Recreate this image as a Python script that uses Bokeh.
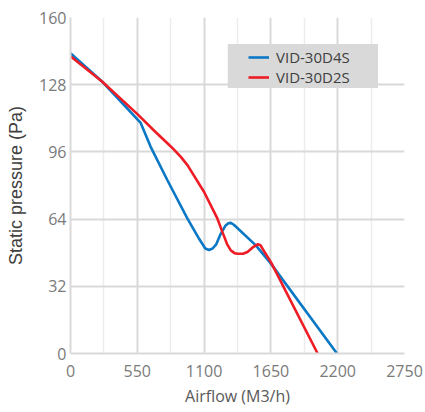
from bokeh.plotting import figure
from bokeh.models import FixedTicker, Range1d, Legend, LegendItem, BoxAnnotation
from bokeh.embed import file_html
from bokeh.resources import INLINE

# ---- data ----
blue_x = [0, 262, 578, 660, 798, 963, 1060, 1110, 1140, 1170, 1200, 1237, 1275, 1300, 1320, 1345, 1526, 1650, 2194]
blue_y = [143, 129.4, 109.8, 98.4, 82.5, 64.2, 54.5, 50.0, 49.3, 50.0, 52.0, 57.0, 60.8, 62.0, 62.2, 61.3, 51.5, 42.8, 0]

red_x = [0, 262, 551, 700, 800, 850, 910, 963, 1100, 1210, 1251, 1290, 1320, 1350, 1375, 1420, 1457, 1500, 1540, 1565, 1581, 1650, 2035]
red_y = [141.6, 129.4, 114.0, 105.5, 100.0, 97.2, 93.5, 89.7, 76.9, 64.2, 57.8, 52.0, 49.1, 47.8, 47.5, 47.5, 48.3, 50.5, 52.0, 51.5, 49.9, 43.5, 0]

series_names = ["VID-30D4S", "VID-30D2S"]
x_ticks = [0, 550, 1100, 1650, 2200, 2750]
x_minor = [275, 825, 1375, 1925, 2475]
y_ticks = [0, 32, 64, 96, 128, 160]

TICK_FONT = "Open Sans"

p = figure(frame_width=334, frame_height=336, output_backend="svg", toolbar_location=None,
           x_range=Range1d(0, 2750), y_range=Range1d(0, 160),
           min_border_left=70, min_border_top=17, min_border_right=21, min_border_bottom=2)
p.outline_line_color = None
p.background_fill_color = "white"

p.xaxis.ticker = FixedTicker(ticks=x_ticks, minor_ticks=x_minor)
p.yaxis.ticker = FixedTicker(ticks=y_ticks)

for ax in (p.xaxis[0], p.yaxis[0]):
    ax.axis_line_color = "#d9d9d9"
    ax.axis_line_width = 2
    ax.major_tick_line_color = None
    ax.minor_tick_line_color = None
    ax.major_tick_out = 0
    ax.major_tick_in = 0
    ax.minor_tick_out = 0
    ax.minor_tick_in = 0
    ax.major_label_text_font = TICK_FONT
    ax.major_label_text_font_size = "16px"
    ax.major_label_text_color = "#7a7a7a"

p.xaxis.axis_label = "Airflow (M3/h)"
p.xaxis.axis_label_text_font = "Open Sans"
p.xaxis.axis_label_text_font_size = "16px"
p.xaxis.axis_label_text_font_style = "normal"
p.xaxis.axis_label_text_color = "#595959"
p.xaxis.major_label_standoff = 11
p.xaxis.axis_label_standoff = 5

p.yaxis.axis_label = "Static pressure (Pa)"
p.yaxis.axis_label_text_font = "Liberation Sans"
p.yaxis.axis_label_text_font_size = "18px"
p.yaxis.axis_label_text_font_style = "normal"
p.yaxis.axis_label_text_color = "#404040"
p.yaxis.major_label_standoff = 4
p.yaxis.axis_label_standoff = 10

p.xgrid.grid_line_color = "#d9d9d9"
p.xgrid.grid_line_width = 2
p.xgrid.minor_grid_line_color = "#ececec"
p.xgrid.minor_grid_line_width = 1.5
p.ygrid.grid_line_color = "#d9d9d9"
p.ygrid.grid_line_width = 2

blue = p.line(blue_x, blue_y, line_color="#0b78c6", line_width=2.6)
red = p.line(red_x, red_y, line_color="#ee1c25", line_width=2.6)

box = BoxAnnotation(left=1295, right=2532, bottom=126.4, top=147.4,
                    fill_color="#d9d9d9", fill_alpha=1, line_color=None)
p.add_layout(box)

legend = Legend(items=[LegendItem(label=series_names[0], renderers=[blue]),
                       LegendItem(label=series_names[1], renderers=[red])],
                location=(178, 266), padding=0, spacing=0, margin=0,
                glyph_width=21, glyph_height=20, label_height=20, label_standoff=7,
                background_fill_alpha=0, border_line_color=None,
                label_text_font="Open Sans", label_text_font_size="15px",
                label_text_color="#404040")
p.add_layout(legend)

open("out.html", "w").write(file_html(p, INLINE))
